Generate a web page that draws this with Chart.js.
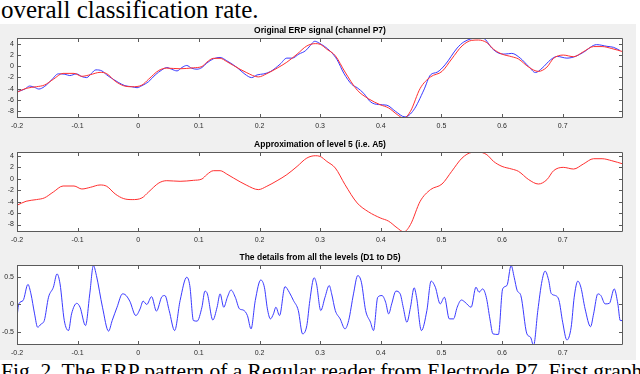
<!DOCTYPE html>
<html>
<head>
<meta charset="utf-8">
<script src="https://cdn.jsdelivr.net/npm/chart.js@4.4.0/dist/chart.umd.min.js"></script>
<style>
  body { margin: 0; width: 640px; height: 374px; overflow: hidden; background: #fff; position: relative; }
  .texto { position: absolute; left: 1px; font-family: "Liberation Serif", "Times New Roman", serif; color: #000; line-height: 1; white-space: nowrap; }
  #topo { top: -3px; font-size: 25px; }
  #legenda { top: 361px; font-size: 21.5px; }
  #painel { position: absolute; left: 0; top: 24px; width: 636px; height: 336px; background: #f0f0f0; }
  canvas { position: absolute; left: 0; }
</style>
</head>
<body>
<div class="texto" id="topo">overall classification rate.</div>
<div id="painel"></div>
<canvas id="grafico_original" width="640" height="108" style="top:24px"></canvas>
<canvas id="grafico_a5" width="640" height="108" style="top:138px"></canvas>
<canvas id="grafico_detalhes" width="640" height="108" style="top:251px"></canvas>
<div class="texto" id="legenda">Fig. 2. The ERP pattern of a Regular reader from Electrode P7. First graph</div>

<script>
// signals: [time (s), amplitude]
const sinalOriginal = [
  [-0.2, -4.54], [-0.187, -4.06], [-0.179, -3.52], [-0.171, -3.76], [-0.164, -4.06], [-0.155, -3.64],
  [-0.143, -2.45], [-0.132, -1.37], [-0.121, -1.43], [-0.113, -1.67], [-0.102, -1.37], [-0.093, -1.85],
  [-0.085, -2.03], [-0.077, -1.25], [-0.07, -0.66], [-0.06, -0.84], [-0.052, -1.55], [-0.044, -2.15],
  [-0.033, -2.87], [-0.022, -3.46], [-0.011, -3.64], [-0.002, -3.82], [0.006, -3.46], [0.017, -2.75],
  [0.028, -1.55], [0.039, -0.66], [0.047, -0.24], [0.055, -0.54], [0.064, -0.84], [0.072, -0.24],
  [0.08, 0.12], [0.088, -0.36], [0.097, -0.54], [0.105, -0.24], [0.113, 0.54], [0.124, 1.31],
  [0.135, 1.55], [0.146, 0.96], [0.163, -0.24], [0.176, -1.43], [0.187, -2.03], [0.196, -1.55],
  [0.207, -1.37], [0.218, -0.96], [0.234, 0.36], [0.245, 1.43], [0.254, 1.43], [0.265, 2.15],
  [0.276, 2.75], [0.284, 3.7], [0.291, 4.42], [0.298, 4.12], [0.317, 2.63], [0.328, 1.13],
  [0.339, -1.25], [0.352, -3.22], [0.361, -3.82], [0.372, -4.84], [0.383, -6.33], [0.396, -6.81],
  [0.41, -6.93], [0.424, -8.0], [0.44, -9.01], [0.454, -7.82], [0.471, -4.24], [0.482, -1.55],
  [0.493, -1.07], [0.506, 0.24], [0.526, 3.22], [0.537, 4.3], [0.559, 5.0], [0.57, 4.9],
  [0.583, 3.22], [0.594, 2.33], [0.605, 2.15], [0.616, 2.27], [0.63, 1.43], [0.644, -0.06],
  [0.655, -1.13], [0.666, -0.36], [0.68, 1.13], [0.691, 1.73], [0.707, 1.43], [0.721, 1.73],
  [0.734, 2.45], [0.756, 3.82], [0.773, 3.52], [0.784, 3.34], [0.795, 2.75]
]

const sinalA5 = [
  [-0.2, -4.64], [-0.185, -3.94], [-0.168, -3.65], [-0.155, -3.36], [-0.14, -2.32], [-0.124, -1.28],
  [-0.106, -1.28], [-0.093, -1.8], [-0.079, -1.51], [-0.063, -1.1], [-0.052, -1.33], [-0.038, -2.67],
  [-0.024, -3.48], [-0.01, -3.65], [0.006, -3.36], [0.017, -2.32], [0.034, -0.75], [0.047, -0.35],
  [0.069, -0.46], [0.091, -0.29], [0.105, -0.06], [0.113, 0.7], [0.124, 1.39], [0.135, 1.39],
  [0.146, 0.81], [0.157, 0.12], [0.179, -1.16], [0.198, -1.91], [0.212, -1.33], [0.229, -0.35],
  [0.245, 0.7], [0.262, 2.14], [0.278, 3.59], [0.292, 4.0], [0.3, 3.88], [0.311, 3.01],
  [0.325, 1.86], [0.341, -1.04], [0.361, -4.23], [0.38, -5.8], [0.399, -6.84], [0.413, -7.42],
  [0.427, -8.58], [0.438, -9.28], [0.449, -8.0], [0.465, -3.94], [0.482, -1.91], [0.501, -0.93],
  [0.517, 1.28], [0.534, 3.59], [0.55, 4.58], [0.561, 4.64], [0.575, 4.17], [0.586, 3.01],
  [0.6, 2.14], [0.616, 1.68], [0.627, 1.28], [0.644, -0.17], [0.66, -0.93], [0.674, -0.17],
  [0.685, 1.39], [0.701, 1.97], [0.718, 1.68], [0.734, 2.55], [0.751, 3.48], [0.765, 3.48],
  [0.781, 3.13], [0.8, 2.55]
]

const sinalDetalhes = [
  [-0.2, -0.23], [-0.197, 0.01], [-0.19, 0.07], [-0.182, 0.36], [-0.177, 0.19], [-0.171, -0.17],
  [-0.166, -0.41], [-0.16, -0.35], [-0.155, -0.29], [-0.148, 0.13], [-0.14, 0.31], [-0.134, 0.55],
  [-0.129, 0.37], [-0.122, -0.29], [-0.115, -0.47], [-0.11, -0.17], [-0.1015, 0.02], [-0.096, -0.05],
  [-0.087, -0.38], [-0.08, 0.19], [-0.074, 0.7], [-0.069, 0.52], [-0.059, -0.05], [-0.049, -0.48],
  [-0.043, -0.29], [-0.035, -0.05], [-0.026, 0.19], [-0.022, 0.18], [-0.014, 0.06], [-0.004, -0.2],
  [0.003, -0.08], [0.008, 0.06], [0.014, 0.0], [0.022, 0.14], [0.03, -0.12], [0.039, 0.14],
  [0.044, 0.16], [0.051, -0.11], [0.06, -0.47], [0.069, 0.07], [0.08, 0.49], [0.085, 0.34],
  [0.091, -0.29], [0.097, -0.3], [0.105, -0.05], [0.11, 0.24], [0.114, 0.19], [0.123, -0.28],
  [0.13, -0.05], [0.135, 0.19], [0.141, -0.05], [0.147, 0.13], [0.153, 0.26], [0.16, 0.13],
  [0.167, -0.08], [0.173, -0.1], [0.18, -0.2], [0.186, -0.44], [0.193, 0.07], [0.202, 0.44],
  [0.208, 0.31], [0.213, -0.08], [0.218, -0.26], [0.223, -0.17], [0.227, -0.05], [0.233, -0.2],
  [0.242, 0.32], [0.249, 0.22], [0.256, 0.07], [0.264, -0.11], [0.271, -0.53], [0.278, -0.38],
  [0.283, 0.07], [0.29, 0.48], [0.294, 0.37], [0.301, -0.11], [0.308, 0.13], [0.315, 0.34],
  [0.319, 0.19], [0.325, -0.11], [0.333, -0.26], [0.341, -0.44], [0.347, -0.29], [0.355, 0.19],
  [0.362, 0.52], [0.368, 0.4], [0.375, -0.11], [0.383, -0.32], [0.388, -0.47], [0.395, 0.13],
  [0.402, 0.16], [0.408, 0.04], [0.413, -0.17], [0.418, 0.01], [0.425, 0.24], [0.432, 0.19],
  [0.437, -0.05], [0.443, -0.32], [0.449, -0.05], [0.455, 0.3], [0.459, 0.13], [0.467, -0.47],
  [0.476, -0.11], [0.483, 0.42], [0.49, 0.31], [0.498, 0.01], [0.505, 0.13], [0.513, -0.26],
  [0.52, -0.26], [0.526, -0.05], [0.533, 0.08], [0.539, 0.04], [0.549, -0.05], [0.557, 0.31],
  [0.562, 0.22], [0.568, 0.28], [0.574, 0.13], [0.58, -0.26], [0.585, -0.53], [0.594, -0.54],
  [0.601, 0.28], [0.608, 0.34], [0.615, 0.7], [0.62, 0.49], [0.625, 0.25], [0.631, 0.16],
  [0.641, -0.53], [0.647, -0.59], [0.652, -0.74], [0.659, -0.11], [0.666, 0.43], [0.671, 0.6],
  [0.677, 0.43], [0.681, 0.2], [0.688, 0.16], [0.694, 0.07], [0.7, -0.32], [0.707, -0.64],
  [0.714, -0.41], [0.719, 0.13], [0.725, 0.42], [0.73, 0.31], [0.737, -0.08], [0.746, -0.4],
  [0.751, -0.17], [0.758, 0.19], [0.763, 0.16], [0.77, 0.01], [0.777, 0.02], [0.785, 0.28],
  [0.791, 0.01], [0.795, -0.29], [0.799, -0.29]
]

// axis ticks and limits
const ticksTempo = [-0.2, -0.1, 0, 0.1, 0.2, 0.3, 0.4, 0.5, 0.6, 0.7]
const limitesTempo = [-0.2, 0.7995]
const ticksSinal = [-8, -6, -4, -2, 0, 2, 4]
const ticksDetalhes = [-0.5, 0, 0.5]

const corAzul = '#3a3aff'
const corVermelho = '#ff3030'
const fonteEixo = { family: 'Liberation Sans, Arial, sans-serif', size: 7 }

// white plot box + matlab style inward ticks on all four sides
const moldura = {
  id: 'moldura',
  beforeDraw(chart) {
    const { ctx, chartArea: a } = chart
    ctx.save()
    ctx.fillStyle = '#fff'
    ctx.fillRect(a.left, a.top, a.right - a.left, a.bottom - a.top)
    ctx.restore()
  },
  afterDraw(chart) {
    const { ctx, chartArea: a, scales } = chart
    ctx.save()
    ctx.strokeStyle = '#5a5a5a'
    ctx.lineWidth = 1
    ctx.beginPath()
    ctx.rect(Math.round(a.left) + 0.5, Math.round(a.top) + 0.5, Math.round(a.right - a.left) - 1, Math.round(a.bottom - a.top) - 1)
    scales.x.ticks.forEach(t => {
      const px = Math.round(scales.x.getPixelForValue(t.value)) + 0.5
      ctx.moveTo(px, a.bottom); ctx.lineTo(px, a.bottom - 4)
      ctx.moveTo(px, a.top); ctx.lineTo(px, a.top + 4)
    })
    scales.y.ticks.forEach(t => {
      const py = Math.round(scales.y.getPixelForValue(t.value)) + 0.5
      ctx.moveTo(a.left, py); ctx.lineTo(a.left + 4, py)
      ctx.moveTo(a.right, py); ctx.lineTo(a.right - 4, py)
    })
    ctx.stroke()
    ctx.restore()
  }
}

function serie(pontos, cor) {
  return {
    data: pontos.map(p => ({ x: p[0], y: p[1] })),
    borderColor: cor,
    borderWidth: 1,
    pointRadius: 0,
    cubicInterpolationMode: 'monotone'
  }
}

function criarGrafico(id, titulo, datasets, yMin, yMax, yTicks) {
  return new Chart(document.getElementById(id), {
    type: 'line',
    data: { datasets: datasets },
    options: {
      responsive: false,
      animation: false,
      events: [],
      layout: { padding: { left: 0, right: 17, top: 0, bottom: 0 } },
      plugins: {
        legend: { display: false },
        tooltip: { enabled: false },
        title: {
          display: true,
          text: titulo,
          fullSize: false,
          color: '#000',
          font: { family: 'Liberation Sans, Arial, sans-serif', size: 8.5, weight: 'bold', lineHeight: 1 },
          padding: { top: 2.75, bottom: 2.75 }
        }
      },
      scales: {
        x: {
          type: 'linear',
          min: limitesTempo[0],
          max: limitesTempo[1],
          afterBuildTicks: s => { s.ticks = ticksTempo.map(v => ({ value: v })) },
          afterFit: s => { s.height = 14 },
          grid: { display: false, drawTicks: false },
          border: { display: false },
          ticks: { font: fonteEixo, color: '#2a2a2a', padding: 3.5, maxRotation: 0, autoSkip: false }
        },
        y: {
          min: yMin,
          max: yMax,
          afterBuildTicks: s => { s.ticks = yTicks.map(v => ({ value: v })) },
          afterFit: s => { s.width = 17 },
          grid: { display: false, drawTicks: false },
          border: { display: false },
          ticks: { font: fonteEixo, color: '#2a2a2a', padding: 3, autoSkip: false }
        }
      }
    },
    plugins: [moldura]
  })
}

// ORIGINAL SIGNAL (red drawn on top of blue)
criarGrafico('grafico_original', 'Original ERP signal (channel P7)',
  [serie(sinalA5, corVermelho), serie(sinalOriginal, corAzul)], -9.2, 5.0, ticksSinal)

// APPROXIMATION A5
criarGrafico('grafico_a5', 'Approximation of level 5 (i.e. A5)',
  [serie(sinalA5, corVermelho)], -9.3, 4.65, ticksSinal)

// DETAILS D1..D5
criarGrafico('grafico_detalhes', 'The details from all the levels (D1 to D5)',
  [serie(sinalDetalhes, corAzul)], -0.73, 0.71, ticksDetalhes)
</script>
</body>
</html>
